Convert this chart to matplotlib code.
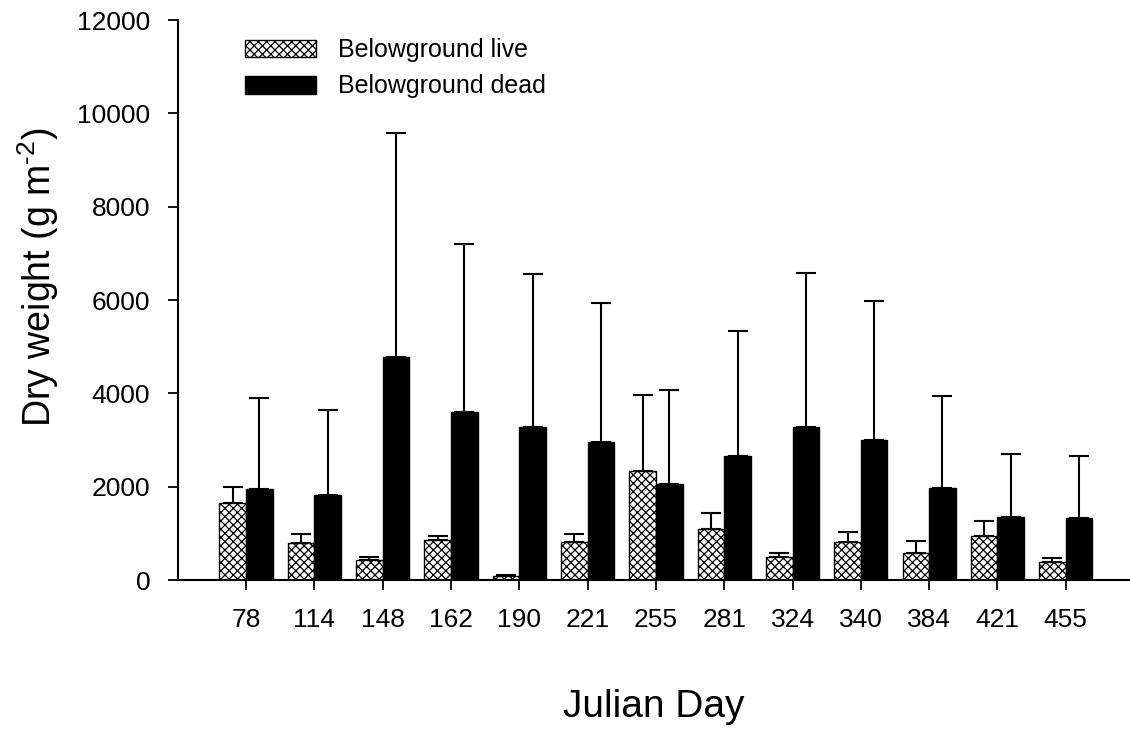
#!/usr/bin/env python3
"""Belowground live/dead dry weight by Julian day, bar chart with upper error bars."""
import matplotlib
matplotlib.use("Agg")
import matplotlib.pyplot as plt
import numpy as np

plt.rcParams["font.family"] = ["Liberation Sans", "DejaVu Sans"]
plt.rcParams["mathtext.fontset"] = "custom"
plt.rcParams["mathtext.rm"] = "Liberation Sans"
plt.rcParams["mathtext.it"] = "Liberation Sans"
plt.rcParams["hatch.linewidth"] = 0.9

# data
days = ["78", "114", "148", "162", "190", "221", "255", "281", "324", "340", "384", "421", "455"]
live = [1660, 800, 430, 855, 85, 805, 2335, 1085, 490, 820, 570, 940, 395]
live_err = [340, 185, 70, 95, 30, 190, 1630, 355, 95, 200, 265, 320, 85]
dead = [1955, 1815, 4780, 3605, 3270, 2965, 2050, 2655, 3285, 2995, 1970, 1355, 1330]
dead_err = [1950, 1820, 4800, 3595, 3290, 2970, 2030, 2680, 3295, 2990, 1965, 1350, 1325]

W, H = 1130, 729
fig = plt.figure(figsize=(W / 100, H / 100), dpi=100)
ax = fig.add_axes([178 / W, 1 - 580 / H, 1 - 178 / W, 560 / H])

x = np.arange(len(days))
bw = 0.39

ax.bar(x - bw / 2, live, bw, color="white", edgecolor="black", linewidth=1.0,
       hatch="xxxx", label="Belowground live", zorder=2)
ax.bar(x + bw / 2, dead, bw, color="black", edgecolor="black", linewidth=1.0,
       label="Belowground dead", zorder=2)

# only the upper half of each error bar is drawn
ax.errorbar(x - bw / 2, live, yerr=[np.zeros(len(live)), live_err], fmt="none",
            ecolor="black", elinewidth=1.5, capsize=7, capthick=1.5, zorder=1)
ax.errorbar(x + bw / 2, dead, yerr=[np.zeros(len(dead)), dead_err], fmt="none",
            ecolor="black", elinewidth=1.5, capsize=7, capthick=1.5, zorder=1)

ax.set_xlim(-0.995, 12.94)
ax.set_ylim(0, 12000)
ax.set_xticks(x)
ax.set_xticklabels(days)
ax.set_yticks(np.arange(0, 12001, 2000))

for side in ["top", "right"]:
    ax.spines[side].set_visible(False)
for side in ["left", "bottom"]:
    ax.spines[side].set_linewidth(1.5)

ax.tick_params(axis="both", direction="out", length=7, width=1.3, labelsize=19, pad=13)

ax.set_xlabel("Julian Day", fontsize=28)
ax.xaxis.set_label_coords(0.5, -0.195)
ax.set_ylabel("Dry weight (g m$^{\\text{-2}}$)", fontsize=27)
ax.yaxis.set_label_coords(-0.123, 0.54)

ax.legend(loc="upper left", bbox_to_anchor=(245 / W, 1 - 38 / H),
          bbox_transform=fig.transFigure, frameon=False, fontsize=18,
          handlelength=2.85, handleheight=0.7, handletextpad=0.85,
          labelspacing=0.5, borderpad=0, borderaxespad=0)

fig.savefig("out.png", dpi=100)
